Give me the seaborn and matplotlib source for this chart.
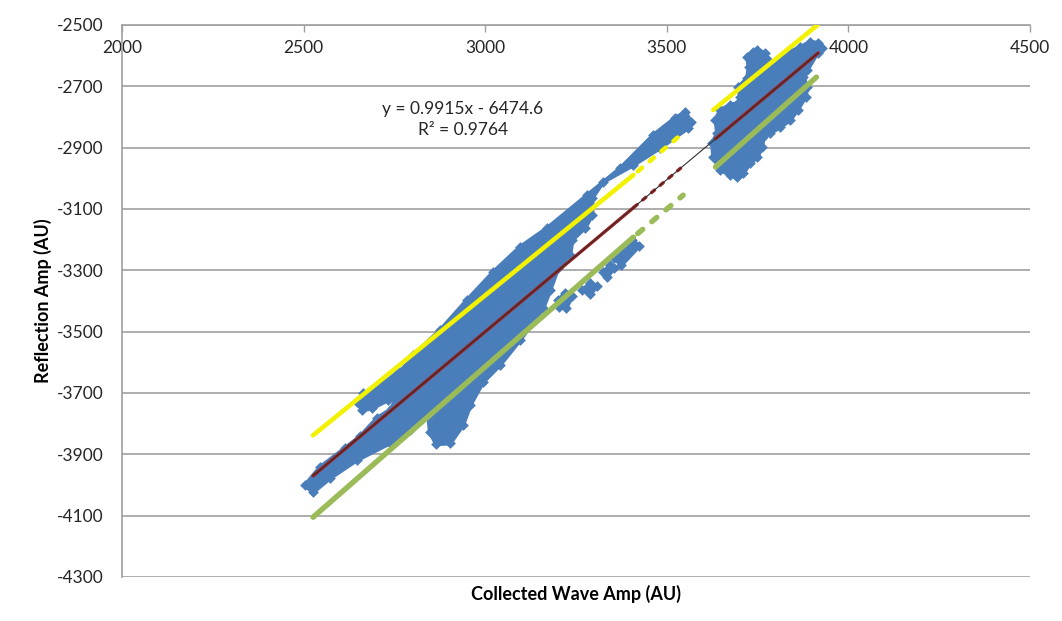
import matplotlib
matplotlib.use("Agg")
import matplotlib.pyplot as plt
import seaborn as sns
import pandas as pd

# ---- data -----------------------------------------------------------------
# linear trend (Collected -> Reflection)
slope = 0.9915
intercept = -6474.6
r_squared = 0.9764
trend_x = [2526, 3917]

# measured cloud (dense scatter of samples), outlined as regions
cloud_main_x = [2504, 2545, 2614, 2656, 2702, 2744, 2758, 2766, 2802, 2876, 2950,
                3022, 3096, 3171, 3281, 3372, 3463, 3523, 3551, 3567, 3559, 3482,
                3408, 3325, 3295, 3295, 3275, 3240, 3234, 3201, 3179, 3160, 3096,
                3041, 2994, 2959, 2939, 2904, 2865, 2848, 2843, 2793, 2738, 2647,
                2573, 2526]
cloud_main_y = [-4001, -3942, -3880, -3841, -3782, -3750, -3697, -3632, -3577, -3495,
                -3397, -3306, -3224, -3162, -3055, -2967, -2859, -2803, -2784, -2816,
                -2836, -2901, -2957, -3012, -3064, -3120, -3162, -3201, -3250, -3293,
                -3365, -3423, -3528, -3609, -3665, -3740, -3805, -3864, -3867, -3828,
                -3769, -3821, -3864, -3919, -3978, -4024]

cloud_chunk_x = [2647, 2664, 2711, 2760, 2766, 2733, 2689, 2661]
cloud_chunk_y = [-3730, -3701, -3675, -3632, -3707, -3723, -3750, -3756]

cloud_s1_x = [3201, 3220, 3240, 3223, 3204]
cloud_s1_y = [-3397, -3374, -3384, -3423, -3420]
cloud_s2_x = [3267, 3289, 3309, 3289]
cloud_s2_y = [-3365, -3342, -3351, -3378]
cloud_s3_x = [3325, 3344, 3355, 3336]
cloud_s3_y = [-3306, -3283, -3293, -3322]
cloud_s4_x = [3355, 3405, 3424, 3375]
cloud_s4_y = [-3260, -3201, -3221, -3283]

cloud_high_x = [3675, 3647, 3628, 3625, 3639, 3634, 3647, 3675, 3697, 3702, 3697,
                3722, 3725, 3722, 3736, 3749, 3771, 3780, 3785, 3832, 3868, 3895,
                3917, 3928, 3915, 3887, 3876, 3887, 3882, 3860, 3840, 3813, 3785,
                3766, 3763, 3749, 3730, 3711, 3694]
cloud_high_y = [-2989, -2973, -2931, -2885, -2852, -2810, -2777, -2761, -2754, -2735,
                -2702, -2673, -2637, -2604, -2588, -2582, -2591, -2614, -2631, -2591,
                -2572, -2555, -2559, -2575, -2591, -2647, -2670, -2702, -2735, -2777,
                -2810, -2833, -2852, -2865, -2898, -2931, -2950, -2983, -2996]

# upper limit series
upper_x = [[2526, 3408], [3420, 3545], [3628, 3915]]
upper_y = [[-3838, -2989], [-2977, -2852], [-2777, -2500]]
# lower limit series
lower_x = [[2526, 3408], [3420, 3545], [3634, 3912]]
lower_y = [[-4105, -3192], [-3180, -3055], [-2963, -2670]]
# predicted series
pred_x = [[2526, 3410], [3410, 3545], [3634, 3917]]
pred_y = [[-3970, -3094], [-3094, -2960], [-2871, -2591]]

x_ticks = [2000, 2500, 3000, 3500, 4000, 4500]
y_ticks = [-4300, -4100, -3900, -3700, -3500, -3300, -3100, -2900, -2700, -2500]

# ---- style ----------------------------------------------------------------
sns.set_theme(style="white")
plt.rcParams["font.family"] = ["Lato", "DejaVu Sans"]
plt.rcParams["axes.unicode_minus"] = False

BLUE = "#4a7ebb"
YELLOW = "#f2f200"
GREEN = "#9bbb59"
RED = "#a32020"
GRID = "#a0a0a0"
TEXT = "#262626"
FS = 12.5

fig = plt.figure(figsize=(10.62, 6.21), dpi=100)
ax = fig.add_axes([122 / 1062, 1 - 577 / 621, 908 / 1062, 552 / 621])

# measured cloud: filled outline plus diamond samples along its rim
regions = [(cloud_main_x, cloud_main_y), (cloud_chunk_x, cloud_chunk_y),
           (cloud_s1_x, cloud_s1_y), (cloud_s2_x, cloud_s2_y),
           (cloud_s3_x, cloud_s3_y), (cloud_s4_x, cloud_s4_y),
           (cloud_high_x, cloud_high_y)]
for cx, cy in regions:
    ax.fill(cx, cy, color=BLUE, ec=BLUE, lw=3.0, joinstyle="miter", zorder=2)
rim = pd.DataFrame({"x": sum((r[0] for r in regions), []),
                    "y": sum((r[1] for r in regions), [])})
sns.scatterplot(data=rim, x="x", y="y", ax=ax, marker="D", s=30, color=BLUE,
                linewidth=0, zorder=2, legend=False)


def draw_series(xs, ys, color, lw):
    for i, (sx, sy) in enumerate(zip(xs, ys)):
        seg = pd.DataFrame({"x": sx, "y": sy})
        ls = (0, (1.2, 2.2)) if i == 1 else "-"
        sns.lineplot(data=seg, x="x", y="y", ax=ax, color=color, lw=lw,
                     estimator=None, sort=False, linestyle=ls,
                     solid_capstyle="round", dash_capstyle="round", zorder=3)


draw_series(upper_x, upper_y, YELLOW, 3.3)
draw_series(lower_x, lower_y, GREEN, 3.9)
draw_series(pred_x, pred_y, RED, 2.4)

# trend line
trend_y = [slope * v + intercept for v in trend_x]
sns.lineplot(x=trend_x, y=trend_y, ax=ax, color="#303030", lw=0.8,
             estimator=None, sort=False, zorder=4)

ax.text(2939, -2774, f"y = {slope}x - {abs(intercept)}", ha="center", va="center",
        fontsize=FS, color=TEXT)
ax.text(2939, -2843, f"R\u00b2 = {r_squared}", ha="center", va="center",
        fontsize=FS, color=TEXT)

# axes
ax.set_xlim(2000, 4500)
ax.set_ylim(-4300, -2500)
ax.set_xticks(x_ticks)
ax.set_yticks(y_ticks)
ax.xaxis.set_ticks_position("top")
ax.tick_params(axis="x", direction="in", length=5, width=1, color=GRID,
               pad=-22, labelsize=FS, labelcolor=TEXT)
ax.tick_params(axis="y", direction="out", length=5, width=1, color=GRID,
               pad=8, labelsize=FS, labelcolor=TEXT)
ax.yaxis.grid(True, color=GRID, lw=1.2)
ax.xaxis.grid(False)
ax.set_axisbelow(True)
for side in ["right", "bottom"]:
    ax.spines[side].set_visible(False)
for side in ["top", "left"]:
    ax.spines[side].set_color(GRID)
    ax.spines[side].set_linewidth(1.2)

ax.set_xlabel("Collected Wave Amp (AU)", fontsize=13, fontweight="bold", color="black")
ax.xaxis.set_label_position("bottom")
ax.xaxis.set_label_coords(0.5, -0.014)
ax.set_ylabel("Reflection Amp (AU)", fontsize=13, fontweight="bold", color="black")
ax.yaxis.set_label_coords(-0.077, 0.5)

fig.savefig("out.png", dpi=100, facecolor="white")
